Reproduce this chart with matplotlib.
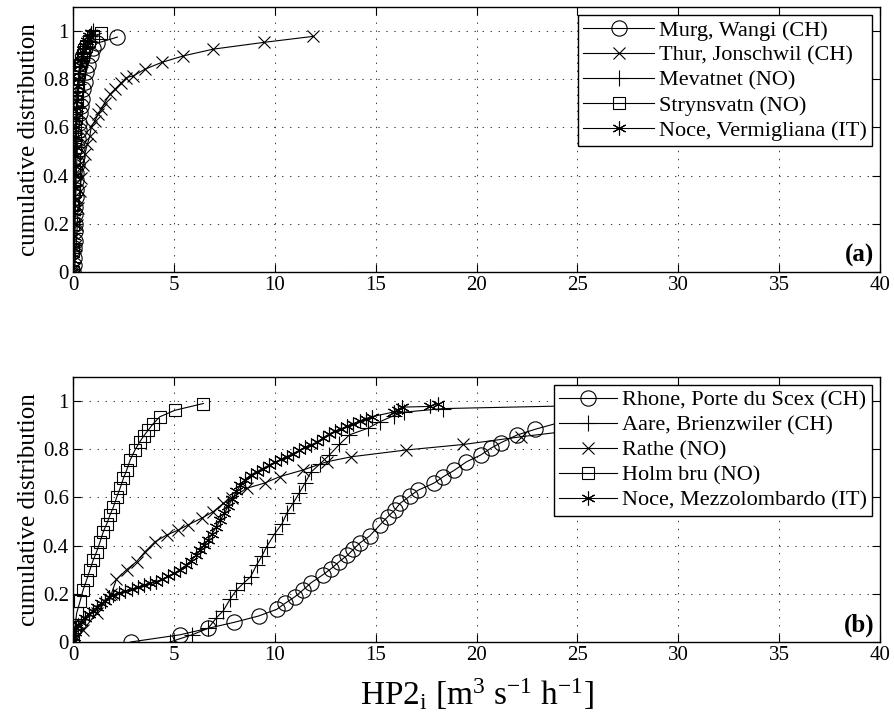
import matplotlib
matplotlib.use('Agg')
import matplotlib.pyplot as plt

# ---- panel (a) data ----
murg_x = [0.0, 0.03, 0.05, 0.06, 0.08, 0.09, 0.1, 0.11, 0.12, 0.13, 0.14, 0.15, 0.16, 0.18, 0.2,
          0.22, 0.25, 0.28, 0.32, 0.36, 0.4, 0.45, 0.5, 0.57, 0.65, 0.75, 0.88, 1.0, 1.2, 2.2]
murg_y = [0.0, 0.03, 0.06, 0.1, 0.13, 0.17, 0.2, 0.24, 0.27, 0.31, 0.34, 0.38, 0.41, 0.45, 0.48,
          0.52, 0.55, 0.59, 0.62, 0.66, 0.69, 0.72, 0.76, 0.79, 0.83, 0.86, 0.9, 0.93, 0.95, 0.975]

thur_x = [0.0, 0.08, 0.16, 0.21, 0.25, 0.33, 0.41, 0.5, 0.58, 0.71, 0.83, 0.9, 1.07, 1.24, 1.4,
          1.57, 1.82, 2.07, 2.4, 2.64, 2.99, 3.57, 4.4, 5.47, 6.95, 9.45, 11.9]
thur_y = [0.0, 0.015, 0.112, 0.196, 0.265, 0.335, 0.39, 0.446, 0.488, 0.53, 0.564, 0.6, 0.626, 0.654, 0.675,
          0.703, 0.737, 0.758, 0.786, 0.807, 0.814, 0.842, 0.87, 0.897, 0.925, 0.953, 0.978]

meva_x = [0.0, 0.01, 0.02, 0.03, 0.04, 0.05, 0.06, 0.07, 0.08, 0.09, 0.1, 0.11, 0.12, 0.13, 0.14,
          0.15, 0.17, 0.19, 0.21, 0.24, 0.27, 0.31, 0.36, 0.42, 0.5, 0.6, 0.72, 0.85, 1.0]
meva_y = [0.0, 0.04, 0.08, 0.12, 0.16, 0.2, 0.24, 0.28, 0.32, 0.36, 0.4, 0.44, 0.48, 0.52, 0.56,
          0.6, 0.64, 0.68, 0.72, 0.75, 0.78, 0.82, 0.85, 0.88, 0.91, 0.94, 0.96, 0.98, 1.0]

stry_x = [0.0, 0.0, 0.01, 0.02, 0.03, 0.04, 0.05, 0.06, 0.08, 0.1, 0.12, 0.14, 0.16, 0.18, 0.2,
          0.23, 0.26, 0.3, 0.35, 0.4, 0.48, 0.56, 0.66, 0.8, 1.0, 1.4]
stry_y = [0.0, 0.09, 0.2, 0.28, 0.33, 0.38, 0.42, 0.47, 0.52, 0.56, 0.6, 0.64, 0.68, 0.71, 0.74,
          0.77, 0.8, 0.83, 0.86, 0.88, 0.9, 0.92, 0.94, 0.96, 0.98, 0.99]

nocev_x = [0.0, 0.02, 0.04, 0.05, 0.06, 0.07, 0.08, 0.09, 0.1, 0.11, 0.12, 0.13, 0.14, 0.15, 0.16,
           0.18, 0.2, 0.22, 0.24, 0.27, 0.3, 0.34, 0.38, 0.43, 0.5, 0.58, 0.68, 0.8, 0.9]
nocev_y = [0.0, 0.05, 0.1, 0.15, 0.2, 0.25, 0.3, 0.35, 0.4, 0.44, 0.48, 0.52, 0.56, 0.6, 0.64,
           0.68, 0.71, 0.74, 0.77, 0.8, 0.83, 0.86, 0.88, 0.9, 0.92, 0.94, 0.96, 0.98, 0.99]

# ---- panel (b) data ----
rhone_x = [2.85, 5.3, 6.7, 8.0, 9.2, 10.1, 10.5, 11.0, 11.4, 11.8, 12.4, 12.8, 13.2, 13.6, 13.9,
           14.2, 14.7, 15.2, 15.6, 15.95, 16.2, 16.7, 17.1, 17.9, 18.35, 18.9, 19.5, 20.2, 20.7, 21.2,
           22.0, 22.9, 24.5, 26.5, 30.0]
rhone_y = [0.0, 0.03, 0.057, 0.082, 0.108, 0.136, 0.16, 0.188, 0.216, 0.246, 0.28, 0.305, 0.334, 0.36, 0.385,
           0.41, 0.44, 0.485, 0.52, 0.548, 0.575, 0.606, 0.63, 0.66, 0.686, 0.713, 0.748, 0.776, 0.804, 0.827,
           0.859, 0.883, 0.92, 0.96, 1.0]

aare_x = [4.8, 5.9, 6.7, 7.1, 7.45, 7.8, 8.1, 8.45, 8.8, 9.1, 9.35, 9.6, 10.0, 10.35, 10.6,
          10.9, 11.2, 11.5, 11.8, 12.25, 12.7, 13.2, 13.7, 14.6, 15.2, 15.9, 16.4, 18.35, 30.0]
aare_y = [0.0, 0.03, 0.057, 0.1, 0.13, 0.18, 0.216, 0.244, 0.271, 0.32, 0.355, 0.396, 0.45, 0.49, 0.535,
          0.575, 0.617, 0.66, 0.706, 0.74, 0.776, 0.82, 0.86, 0.887, 0.914, 0.94, 0.954, 0.969, 0.99]

rathe_x = [0.0, 0.5, 1.17, 1.9, 2.15, 2.65, 3.15, 3.57, 4.06, 4.64, 5.22, 5.7, 6.37, 6.95, 7.45,
           7.86, 8.6, 9.5, 10.26, 11.4, 12.57, 13.8, 16.5, 19.35, 22.2, 27.0, 36.0]
rathe_y = [0.0, 0.05, 0.12, 0.2, 0.26, 0.3, 0.334, 0.375, 0.416, 0.444, 0.465, 0.486, 0.514, 0.541, 0.576,
           0.597, 0.638, 0.66, 0.687, 0.714, 0.748, 0.769, 0.797, 0.82, 0.852, 0.9, 0.97]

holm_x = [0.0, 0.1, 0.18, 0.35, 0.5, 0.67, 0.84, 1.0, 1.17, 1.34, 1.5, 1.67, 1.83, 2.0, 2.16,
          2.33, 2.5, 2.66, 2.83, 3.07, 3.3, 3.5, 3.73, 3.98, 4.3, 5.05, 6.46]
holm_y = [0.0, 0.064, 0.12, 0.17, 0.216, 0.257, 0.3, 0.34, 0.375, 0.416, 0.458, 0.49, 0.527, 0.56, 0.6,
          0.638, 0.68, 0.714, 0.755, 0.797, 0.83, 0.855, 0.88, 0.907, 0.935, 0.962, 0.99]

nocem_x = [0.0, 0.05, 0.1, 0.15, 0.25, 0.4, 0.6, 0.8, 1.0, 1.2, 1.4, 1.6, 1.8, 2.0, 2.3,
           2.6, 2.9, 3.2, 3.5, 3.8, 4.1, 4.4, 4.7, 5.0, 5.3, 5.6, 5.85, 6.1, 6.3, 6.5,
           6.7, 6.9, 7.1, 7.3, 7.5, 7.7, 7.9, 8.1, 8.3, 8.5, 8.8, 9.1, 9.4, 9.7, 10.0,
           10.3, 10.6, 10.9, 11.2, 11.5, 11.8, 12.1, 12.4, 12.7, 13.0, 13.3, 13.6, 13.9, 14.2, 14.5,
           14.8, 15.9, 16.1, 16.3, 17.7, 18.1]
nocem_y = [0.0, 0.02, 0.04, 0.06, 0.07, 0.085, 0.1, 0.115, 0.13, 0.145, 0.16, 0.17, 0.185, 0.195, 0.203,
           0.21, 0.218, 0.227, 0.235, 0.243, 0.25, 0.26, 0.272, 0.285, 0.3, 0.318, 0.338, 0.36, 0.38, 0.402,
           0.425, 0.45, 0.478, 0.505, 0.535, 0.565, 0.595, 0.625, 0.65, 0.672, 0.693, 0.707, 0.72, 0.734, 0.746,
           0.758, 0.77, 0.782, 0.795, 0.808, 0.818, 0.83, 0.848, 0.864, 0.875, 0.885, 0.897, 0.907, 0.917, 0.927,
           0.935, 0.955, 0.965, 0.975, 0.978, 0.99]

x_ticks = [0, 5, 10, 15, 20, 25, 30, 35, 40]
y_ticks = [0, 0.2, 0.4, 0.6, 0.8, 1.0]
y_tick_labels = ['0', '0.2', '0.4', '0.6', '0.8', '1']

plt.rcParams['font.family'] = 'Liberation Serif'
plt.rcParams['mathtext.fontset'] = 'custom'
plt.rcParams['mathtext.rm'] = 'Liberation Serif'
plt.rcParams['mathtext.it'] = 'Liberation Serif:italic'

ASTER = (6, 2, 0)  # asterisk-like marker, as in the original

fig = plt.figure(figsize=(8.94, 7.27), dpi=100)
ax_a = fig.add_axes([0.0817, 0.6259, 0.9027, 0.3645])
ax_b = fig.add_axes([0.0817, 0.1169, 0.9027, 0.3645])

common = dict(color='black', lw=0.8, mfc='none', mec='black', mew=0.8)

ax_a.plot(murg_x, murg_y, marker='o', ms=11, label='Murg, Wangi (CH)', **common)
ax_a.plot(thur_x, thur_y, marker='x', ms=9, label='Thur, Jonschwil (CH)', **common)
ax_a.plot(meva_x, meva_y, marker='+', ms=12, label='Mevatnet (NO)', **common)
ax_a.plot(stry_x, stry_y, marker='s', ms=8, label='Strynsvatn (NO)', **common)
ax_a.plot(nocev_x, nocev_y, marker=ASTER, ms=10, label='Noce, Vermigliana (IT)', **common)

ax_b.plot(rhone_x, rhone_y, marker='o', ms=11, label='Rhone, Porte du Scex (CH)', **common)
ax_b.plot(aare_x, aare_y, marker='+', ms=12, label='Aare, Brienzwiler (CH)', **common)
ax_b.plot(rathe_x, rathe_y, marker='x', ms=9, label='Rathe (NO)', **common)
ax_b.plot(holm_x, holm_y, marker='s', ms=8, label='Holm bru (NO)', **common)
ax_b.plot(nocem_x, nocem_y, marker=ASTER, ms=10, label='Noce, Mezzolombardo (IT)', **common)

for ax, tag, hl in [(ax_a, '(a)', 3.2), (ax_b, '(b)', 2.6)]:
    ax.set_xlim(0, 40)
    ax.set_ylim(0, 1.1)
    ax.set_xticks(x_ticks)
    ax.set_yticks(y_ticks)
    ax.set_yticklabels(y_tick_labels)
    ax.tick_params(direction='in', top=True, right=True, length=6, width=0.8,
                   labelsize=15, pad=3)
    ax.grid(True, color='0.25', lw=0.75, linestyle=(0, (1.3, 6.4)))
    for s in ax.spines.values():
        s.set_linewidth(1.0)
    ax.set_ylabel('cumulative distribution', fontsize=18, labelpad=2)
    ax.text(0.993, 0.02, tag, transform=ax.transAxes, ha='right', va='bottom',
            fontsize=18, fontweight='bold')
    leg = ax.legend(loc='upper right', fontsize=16, handlelength=hl, handletextpad=0.2,
                    labelspacing=0.2, borderpad=0.25, borderaxespad=0.35,
                    fancybox=False, framealpha=1, edgecolor='black')
    leg.get_frame().set_linewidth(1.0)

ax_b.set_xlabel(r'HP2$_{\rm i}$ [m$^3$ s$^{-1}$ h$^{-1}$]', fontsize=24, labelpad=8)

fig.savefig('out.png', dpi=100)
